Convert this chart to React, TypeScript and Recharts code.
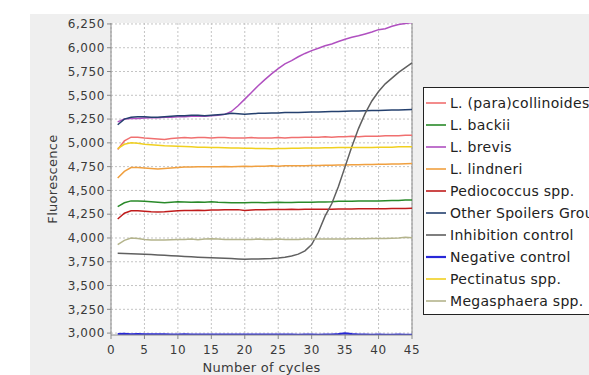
import React from "react";
import { LineChart, Line, XAxis, YAxis, CartesianGrid, ReferenceLine, Label } from "recharts";

const CYCLES = [1, 2, 3, 4, 5, 6, 7, 8, 9, 10, 11, 12, 13, 14, 15, 16, 17, 18, 19, 20, 21, 22, 23, 24, 25, 26, 27, 28, 29, 30, 31, 32, 33, 34, 35, 36, 37, 38, 39, 40, 41, 42, 43, 44, 45];

const X_TICKS = [0, 5, 10, 15, 20, 25, 30, 35, 40, 45];
const Y_TICKS = [3000, 3250, 3500, 3750, 4000, 4250, 4500, 4750, 5000, 5250, 5500, 5750, 6000, 6250];

const SERIES_NAMES = [
  "L. (para)collinoides",
  "L. backii",
  "L. brevis",
  "L. lindneri",
  "Pediococcus spp.",
  "Other Spoilers Group",
  "Inhibition control",
  "Negative control",
  "Pectinatus spp.",
  "Megasphaera spp.",
];

const SERIES_COLORS = ["#f07070", "#2a8a2a", "#b050c0", "#f0a040", "#c01c1c", "#24406e", "#606060", "#2828d8", "#f0d020", "#b4b48c"];

const collinoides = [4930, 5020, 5060, 5060, 5050, 5045, 5040, 5035, 5045, 5050, 5055, 5050, 5055, 5055, 5050, 5055, 5055, 5050, 5050, 5050, 5055, 5050, 5050, 5050, 5055, 5050, 5055, 5055, 5060, 5060, 5060, 5065, 5060, 5065, 5065, 5070, 5065, 5070, 5070, 5070, 5075, 5075, 5075, 5080, 5080];
const backii = [4330, 4370, 4390, 4390, 4385, 4380, 4375, 4370, 4375, 4380, 4378, 4375, 4378, 4375, 4380, 4375, 4372, 4370, 4370, 4370, 4372, 4372, 4370, 4372, 4375, 4372, 4372, 4375, 4375, 4375, 4378, 4378, 4380, 4385, 4385, 4385, 4388, 4388, 4390, 4390, 4392, 4395, 4395, 4398, 4400];
const brevis = [5220, 5250, 5255, 5255, 5260, 5265, 5265, 5270, 5270, 5275, 5275, 5280, 5280, 5280, 5285, 5290, 5300, 5330, 5390, 5460, 5530, 5600, 5665, 5725, 5780, 5830, 5865, 5905, 5940, 5970, 5995, 6020, 6040, 6065, 6090, 6110, 6125, 6145, 6165, 6190, 6200, 6225, 6245, 6255, 6265];
const lindneri = [4630, 4700, 4740, 4740, 4735, 4730, 4725, 4730, 4735, 4740, 4745, 4745, 4750, 4748, 4750, 4750, 4752, 4750, 4752, 4755, 4752, 4755, 4755, 4758, 4755, 4758, 4760, 4758, 4760, 4762, 4762, 4765, 4765, 4768, 4768, 4770, 4770, 4772, 4772, 4775, 4775, 4778, 4778, 4780, 4782];
const pediococcus = [4200, 4260, 4285, 4285, 4280, 4275, 4272, 4275, 4280, 4285, 4288, 4290, 4292, 4290, 4295, 4295, 4298, 4296, 4298, 4290, 4295, 4298, 4298, 4300, 4300, 4300, 4302, 4300, 4302, 4302, 4303, 4302, 4303, 4305, 4305, 4305, 4306, 4306, 4308, 4308, 4308, 4310, 4310, 4310, 4312];
const otherSpoilers = [5190, 5250, 5270, 5275, 5275, 5270, 5270, 5275, 5280, 5285, 5285, 5290, 5290, 5285, 5290, 5295, 5300, 5310, 5305, 5300, 5305, 5310, 5312, 5315, 5315, 5318, 5318, 5320, 5322, 5325, 5325, 5328, 5330, 5330, 5332, 5335, 5335, 5338, 5340, 5340, 5342, 5345, 5345, 5348, 5350];
const inhibition = [3840, 3838, 3835, 3832, 3830, 3826, 3822, 3818, 3814, 3810, 3806, 3802, 3798, 3795, 3792, 3790, 3787, 3784, 3780, 3777, 3778, 3780, 3782, 3785, 3790, 3798, 3810, 3830, 3865, 3930, 4060, 4230, 4360, 4540, 4750, 4960, 5150, 5310, 5440, 5540, 5620, 5680, 5740, 5790, 5840];
const negative = [2990, 2992, 2988, 2990, 2988, 2987, 2986, 2986, 2985, 2985, 2986, 2985, 2984, 2985, 2985, 2984, 2984, 2983, 2984, 2984, 2983, 2984, 2983, 2983, 2984, 2983, 2983, 2982, 2983, 2983, 2982, 2983, 2984, 2990, 2998, 2990, 2984, 2983, 2982, 2983, 2982, 2982, 2983, 2982, 2982];
const pectinatus = [4940, 4985, 5000, 4995, 4985, 4980, 4975, 4970, 4968, 4965, 4962, 4960, 4955, 4955, 4952, 4950, 4948, 4945, 4945, 4942, 4942, 4940, 4940, 4938, 4940, 4940, 4942, 4942, 4945, 4945, 4945, 4948, 4948, 4950, 4950, 4950, 4952, 4952, 4952, 4955, 4955, 4955, 4958, 4958, 4960];
const megasphaera = [3930, 3975, 4000, 3995, 3985, 3980, 3978, 3980, 3982, 3985, 3985, 3988, 3982, 3990, 3992, 3988, 3985, 3985, 3985, 3985, 3985, 3988, 3985, 3985, 3988, 3985, 3985, 3985, 3988, 3988, 3988, 3990, 3990, 3990, 3990, 3992, 3992, 3992, 3995, 3995, 3995, 3998, 4000, 4008, 4002];

const SERIES_VALUES = [collinoides, backii, brevis, lindneri, pediococcus, otherSpoilers, inhibition, negative, pectinatus, megasphaera];

const data = CYCLES.map((c, i) => {
  const row: Record<string, number> = { cycle: c };
  SERIES_VALUES.forEach((vals, s) => {
    row["s" + s] = vals[i];
  });
  return row;
});

const FONT = "'DejaVu Sans', 'Liberation Sans', Arial, sans-serif";
const TEXT = "#3a3a3a";

export default function App() {
  return (
    <div style={{ position: "absolute", left: 0, top: 0, width: 589, height: 375, overflow: "hidden", background: "#fff", fontFamily: FONT }}>
      <div style={{ position: "absolute", left: 30, top: 14, width: 559, height: 361, background: "#efefef" }} />
      <div style={{ position: "absolute", left: 0, top: 0 }}>
        <LineChart width={589} height={375} data={data} margin={{ top: 23, right: 177, bottom: 0, left: 0 }}>
          <CartesianGrid stroke="#c4c4c4" strokeDasharray="2 2" fill="#ffffff" verticalValues={X_TICKS} horizontalValues={Y_TICKS} />
          <XAxis
            dataKey="cycle"
            type="number"
            domain={[0, 45]}
            ticks={X_TICKS}
            height={40}
            tickSize={4}
            tickMargin={6}
            stroke="#8a8a8a"
            tick={{ fill: TEXT, fontSize: 12, fontFamily: FONT, letterSpacing: 0.6 }}
          >
            <Label value="Number of cycles" position="insideBottom" offset={3} style={{ fill: TEXT, fontSize: 13, fontFamily: FONT, letterSpacing: 0.3 }} />
          </XAxis>
          <YAxis
            type="number"
            domain={[2980, 6260]}
            allowDataOverflow
            ticks={Y_TICKS}
            width={111}
            tickSize={4}
            tickMargin={2}
            stroke="#8a8a8a"
            tickFormatter={(v: number) => v.toLocaleString("en-US")}
            tick={{ fill: TEXT, fontSize: 12, fontFamily: FONT, letterSpacing: 0.6 }}
          >
            <Label value="Fluorescence" angle={-90} position="insideLeft" offset={52} style={{ fill: TEXT, fontSize: 13, fontFamily: FONT, textAnchor: "middle", letterSpacing: 0.3 }} />
          </YAxis>
          <ReferenceLine x={45} stroke="#8a8a8a" strokeWidth={1} />
          {SERIES_NAMES.map((name, s) => (
            <Line
              key={name}
              type="linear"
              dataKey={"s" + s}
              name={name}
              stroke={SERIES_COLORS[s]}
              strokeWidth={s === 7 ? 2.2 : 1.5}
              dot={false}
              isAnimationActive={false}
            />
          ))}
        </LineChart>
      </div>
      <div
        style={{
          position: "absolute",
          left: 423,
          top: 87,
          width: 200,
          height: 226,
          border: "1px solid #222",
          background: "#fff",
          boxSizing: "content-box",
        }}
      >
        {SERIES_NAMES.map((name, s) => (
          <div key={name} style={{ position: "absolute", left: 2, top: 4 + s * 22, height: 22, display: "flex", alignItems: "center", whiteSpace: "nowrap" }}>
            <svg width={22} height={22} style={{ display: "block", flex: "none" }}>
              <line x1={0} y1={11} x2={20} y2={11} stroke={SERIES_COLORS[s]} strokeWidth={s === 7 ? 2.2 : 1.6} />
            </svg>
            <span style={{ fontSize: 14, color: "#222", fontFamily: FONT, letterSpacing: 0.3, marginLeft: 2 }}>{name}</span>
          </div>
        ))}
      </div>
    </div>
  );
}
